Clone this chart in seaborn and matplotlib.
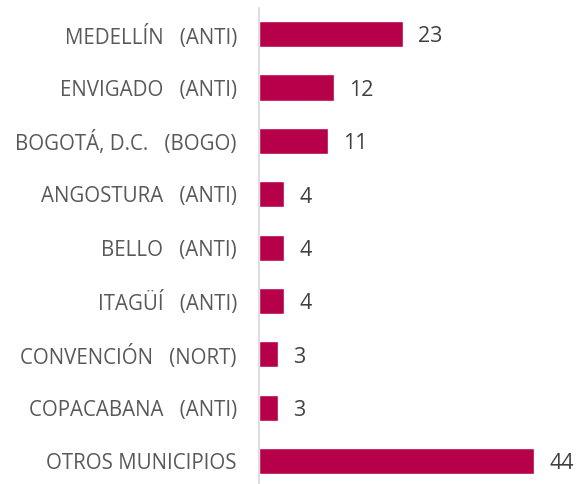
import matplotlib
matplotlib.use("Agg")
import matplotlib.pyplot as plt
import seaborn as sns
import pandas as pd

municipios = [
    "MEDELLÍN   (ANTI)",
    "ENVIGADO   (ANTI)",
    "BOGOTÁ, D.C.   (BOGO)",
    "ANGOSTURA   (ANTI)",
    "BELLO   (ANTI)",
    "ITAGÜÍ   (ANTI)",
    "CONVENCIÓN   (NORT)",
    "COPACABANA   (ANTI)",
    "OTROS MUNICIPIOS",
]
cantidad = [23, 12, 11, 4, 4, 4, 3, 3, 44]

sns.set_theme(style="white")
plt.rcParams["font.family"] = ["Open Sans", "DejaVu Sans"]

df = pd.DataFrame({"municipio": municipios, "cantidad": cantidad})

fig = plt.figure(figsize=(5.79, 4.84), dpi=100)
ax = fig.add_axes([259 / 579, 0.0, 320 / 579, 1 - 8 / 484])

sns.barplot(data=df, x="cantidad", y="municipio", color="#b7004a",
            width=0.49, saturation=1, ax=ax)

ax.set_xlim(0, 51.2)
ax.set_ylim(len(municipios) - 1 + 0.43, -0.49)
ax.set_xlabel("")
ax.set_ylabel("")
ax.set_xticks([])
for side in ["top", "right", "bottom"]:
    ax.spines[side].set_visible(False)
ax.spines["left"].set_color("#d9d9d9")
ax.spines["left"].set_linewidth(1.2)
ax.tick_params(axis="y", length=0, pad=16, labelsize=14.8, labelcolor="#595959")

for cont in ax.containers:
    labels = ax.bar_label(cont, padding=11, fontsize=15.5, color="#404040")
    for t in labels:
        t.xyann = (11, -2)

fig.savefig("out.png", dpi=100)
